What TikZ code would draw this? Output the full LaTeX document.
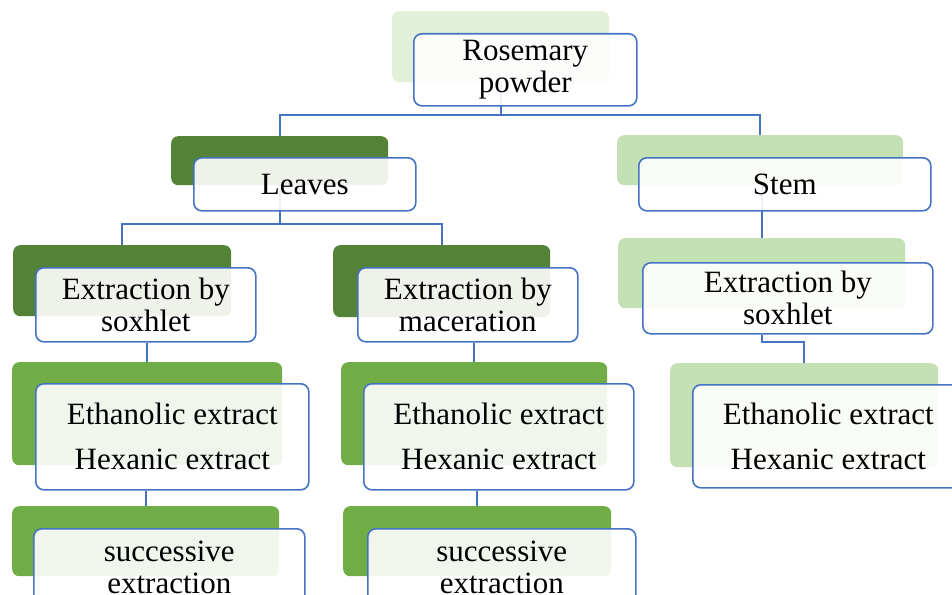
\documentclass[tikz,border=0pt]{standalone}
\usepackage{fontspec}
\setmainfont{Liberation Serif}
\newfontfamily\treefont{Liberation Serif}
\usetikzlibrary{backgrounds}
\definecolor{darkgreen}{rgb}{0.33,0.51,0.21}
\definecolor{midgreen}{rgb}{0.44,0.68,0.28}
\definecolor{lightgreen}{rgb}{0.77,0.88,0.71}
\definecolor{palegreen}{rgb}{0.89,0.94,0.85}
\definecolor{boxblue}{rgb}{0.27,0.45,0.77}

\begin{document}
\begin{tikzpicture}
[x=1pt, y=-1pt,
 back/.style={anchor=north west, rectangle, rounded corners=7pt, inner sep=0pt},
 front/.style={anchor=north west, rectangle, rounded corners=8pt, draw=boxblue, line width=1.6pt, fill=white, fill opacity=0.9, text opacity=1, align=center, inner sep=0pt, font=\treefont\fontsize{31}{32}\selectfont},
 link/.style={draw=boxblue, line width=1.6pt}]
\useasboundingbox (0,0) rectangle (952,594);
\clip (0,0) rectangle (952,594);
\coordinate (lvl1) at (0,115);
\coordinate (lvl2) at (0,224);
\coordinate (jogR) at (0,342);

% top
\node[back, fill=palegreen, minimum width=217pt, minimum height=71pt] (rootback) at (392,11) {};
\node[front, minimum width=223pt, minimum height=72pt] (root) at (413,33) {Rosemary\\powder};

% second row
\node[back, fill=darkgreen, minimum width=217pt, minimum height=49pt] (leavesback) at (171,136) {};
\node[front, minimum width=222pt, minimum height=53pt] (leaves) at (193,157) {Leaves};
\node[back, fill=lightgreen, minimum width=286pt, minimum height=50pt] (stemback) at (617,135) {};
\node[front, minimum width=292pt, minimum height=53pt] (stem) at (638,157) {Stem};

% extraction methods
\node[back, fill=darkgreen, minimum width=218pt, minimum height=71pt] (soxLback) at (13,245) {};
\node[front, minimum width=220pt, minimum height=74pt] (soxL) at (35,267) {Extraction by\\soxhlet};
\node[back, fill=darkgreen, minimum width=217pt, minimum height=72pt] (macback) at (333,245) {};
\node[front, minimum width=220pt, minimum height=74pt] (mac) at (357,267) {Extraction by\\maceration};
\node[back, fill=lightgreen, minimum width=287pt, minimum height=70pt] (soxRback) at (618,238) {};
\node[front, minimum width=290pt, minimum height=71pt] (soxR) at (642,262) {Extraction by\\soxhlet};

% extracts
\node[back, fill=midgreen, minimum width=270pt, minimum height=103pt] (ethLback) at (12,362) {};
\node[front, minimum width=273pt, minimum height=106pt] (ethL) at (35,383) {Ethanolic extract\\[13pt]Hexanic extract};
\node[back, fill=midgreen, minimum width=266pt, minimum height=103pt] (ethMback) at (341,362) {};
\node[front, minimum width=270pt, minimum height=106pt] (ethM) at (363,383) {Ethanolic extract\\[13pt]Hexanic extract};
\node[back, fill=lightgreen, minimum width=268pt, minimum height=104pt] (ethRback) at (670,363) {};
\node[front, minimum width=271pt, minimum height=103pt] (ethR) at (692,384) {Ethanolic extract\\[13pt]Hexanic extract};

% successive
\node[back, fill=midgreen, minimum width=267pt, minimum height=70pt] (sucLback) at (12,506) {};
\node[front, minimum width=271pt, minimum height=77pt] (sucL) at (33,528) {successive\\extraction};
\node[back, fill=midgreen, minimum width=268pt, minimum height=70pt] (sucMback) at (343,506) {};
\node[front, minimum width=268pt, minimum height=77pt] (sucM) at (367,528) {successive\\extraction};

\begin{scope}[on background layer]
\draw[link] (rootback.south) -- (rootback.south |- lvl1) -| (leavesback.north);
\draw[link] (rootback.south |- lvl1) -| (stemback.north);
\draw[link] (leavesback.south) -- (leavesback.south |- lvl2) -| (soxLback.north);
\draw[link] (leavesback.south |- lvl2) -| (macback.north);
\draw[link] (stemback.south -| soxRback.north) -- (soxRback.north);
\draw[link] (ethLback.north |- soxL.south) -- (ethLback.north);
\draw[link] (ethMback.north |- mac.south) -- (ethMback.north);
\draw[link] (soxRback.south |- soxR.south) -- (soxRback.south |- jogR) -| (ethRback.north);
\draw[link] (sucLback.north |- ethL.south) -- (sucLback.north);
\draw[link] (sucMback.north |- ethM.south) -- (sucMback.north);
\end{scope}
\end{tikzpicture}
\end{document}
